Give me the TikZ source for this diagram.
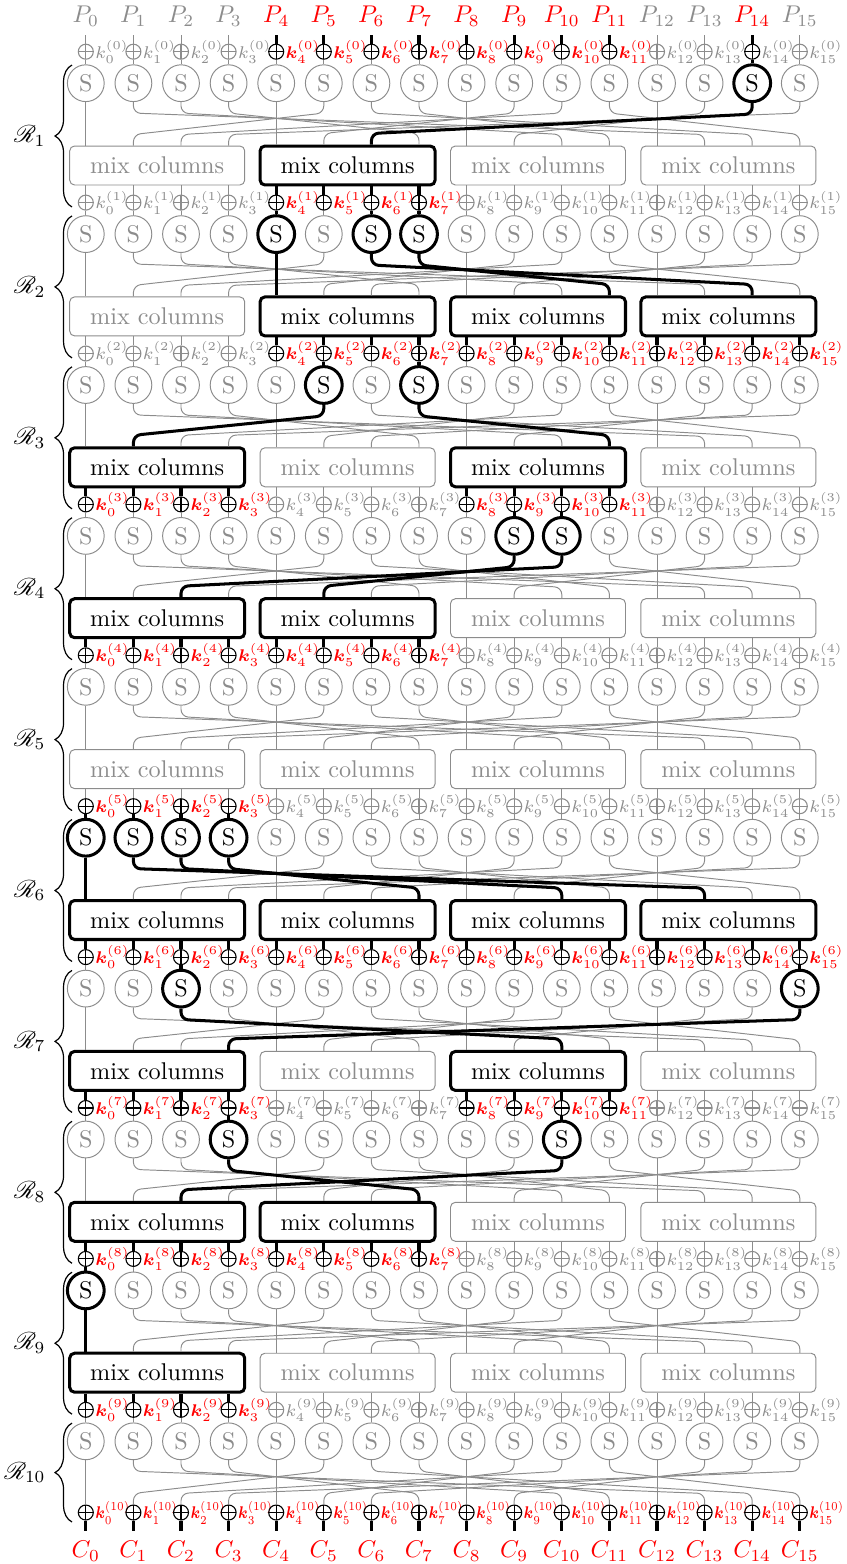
\documentclass[tikz,border=0pt]{standalone}
\usepackage{amsmath}
\usepackage{graphicx}
\usepackage{mathrsfs}
\usetikzlibrary{decorations.pathreplacing,calc}
\colorlet{gry}{black!45}
\newcommand\setact[2]{\foreach \z in {#2}{\expandafter\gdef\csname actflag-#1-\z\endcsname{}}}
\newcommand\testact[2]{\ifcsname actflag-#1-#2\endcsname\def\isact{1}\else\def\isact{0}\fi}
\def\curpass{0}
\newcommand\wire[1]{\ifnum\isact=\curpass\relax\ifnum\isact=1 \draw[tw] #1;\else\draw[gw] #1;\fi\fi}
\newcommand\klab[1]{\ifnum\ra=10 \scalebox{0.82}[1]{#1}\else#1\fi}
\setact{p}{4,5,6,7,8,9,10,11,14}
\setact{s1}{14}
\setact{s2}{4,6,7}
\setact{s3}{5,7}
\setact{s4}{9,10}
\setact{s6}{0,1,2,3}
\setact{s7}{2,15}
\setact{s8}{3,10}
\setact{s9}{0}
\setact{m1}{1}
\setact{m2}{1,2,3}
\setact{m3}{0,2}
\setact{m4}{0,1}
\setact{m6}{0,1,2,3}
\setact{m7}{0,2}
\setact{m8}{0,1}
\setact{m9}{0}
\setact{k0}{4,5,6,7,8,9,10,11}
\setact{k1}{4,5,6,7}
\setact{k2}{4,5,6,7,8,9,10,11,12,13,14,15}
\setact{k3}{0,1,2,3,8,9,10,11}
\setact{k4}{0,1,2,3,4,5,6,7}
\setact{k5}{0,1,2,3}
\setact{k6}{0,1,2,3,4,5,6,7,8,9,10,11,12,13,14,15}
\setact{k7}{0,1,2,3,8,9,10,11}
\setact{k8}{0,1,2,3,4,5,6,7}
\setact{k9}{0,1,2,3}
\setact{k10}{0,1,2,3,4,5,6,7,8,9,10,11,12,13,14,15}
\newcommand\allwires{%
% vertical wires around key additions
\foreach \ra in {0,...,10}{
  \foreach \ia in {0,...,15}{
    \pgfmathtruncatemacro\ga{\ia/4}
    \pgfmathtruncatemacro\rn{\ra+1}
    \ifnum\ra=0
      \testact{p}{\ia}\wire{(p\ia.south) -- (x0c\ia.north)}
    \else\ifnum\ra<10
      \testact{m\ra}{\ga}\wire{(x\ra c\ia |- m\ra g\ga.south) -- (x\ra c\ia.north)}
    \fi\fi
    \ifnum\ra<10
      \testact{s\rn}{\ia}\wire{(x\ra c\ia.south) -- (s\rn c\ia.north)}
    \else
      \def\isact{1}\wire{(x10c\ia.south) -- (c\ia.north)}
    \fi
  }
}
% shift rows wires
\foreach \ra in {1,...,10}{
  \foreach \ia in {0,...,15}{
    \pgfmathtruncatemacro\ja{mod(\ia,4)+4*mod(int(\ia/4)-mod(\ia,4)+4,4)}
    \pgfmathtruncatemacro\ga{\ja/4}
    \testact{s\ra}{\ia}
    \ifnum\ra<10
      \ifnum\ia=\ja
        \wire{(s\ra c\ia.south) -- (s\ra c\ja |- m\ra g\ga.north)}
      \else
        \wire{[rounded corners=3pt] (s\ra c\ia.south) -- ++(0,11) -- ($(s\ra c\ja |- m\ra g\ga.north)+(0,-11)$) -- (s\ra c\ja |- m\ra g\ga.north)}
      \fi
    \else
      \ifnum\ia=\ja
        \wire{(s10c\ia.south) -- (x10c\ja.north)}
      \else
        \wire{[rounded corners=3pt] (s10c\ia.south) -- ++(0,11) -- ($(x10c\ja.north)+(0,-11)$) -- (x10c\ja.north)}
      \fi
    \fi
  }
}}
\begin{document}
\begin{tikzpicture}[x=0.4132pt,y=-0.4132pt,
  gw/.style={draw=gry, line width=0.4pt},
  tw/.style={draw=black, line width=1.25pt},
  sbox/.style={circle, draw=gry, text=gry, line width=0.4pt, minimum size=15.2pt, inner sep=0pt},
  sboxa/.style={circle, draw=black, text=black, line width=1.25pt, minimum size=15.2pt, inner sep=0pt},
  mixg/.style={draw=gry, text=gry, rounded corners=2pt, line width=0.4pt, minimum width=72.3pt, minimum height=16.1pt, inner sep=0pt},
  mixa/.style={draw=black, text=black, rounded corners=2pt, line width=1.25pt, minimum width=72.3pt, minimum height=16.1pt, inner sep=0pt},
  xorn/.style={circle, draw=#1, line width=0.45pt, minimum size=6.2pt, inner sep=0pt,
    path picture={\draw[#1, line width=0.45pt] (path picture bounding box.north) -- (path picture bounding box.south) (path picture bounding box.west) -- (path picture bounding box.east);}},
  klbl/.style={anchor=west, inner sep=0.4pt, font=\scriptsize},
  brc/.style={decorate, decoration={brace, amplitude=7pt}, line width=0.5pt}
]
\useasboundingbox (0,0) rectangle (846,1564);
% plaintext and ciphertext labels
\foreach \ia in {0,...,15}{
  \pgfmathsetmacro\xa{85.8+47.6*\ia}
  \testact{p}{\ia}
  \ifnum\isact=1 \def\tc{red}\else\def\tc{gry}\fi
  \node[text=\tc, anchor=south, inner sep=3.5pt] (p\ia) at (\xa,35) {$P_{\ia}$};
  \node[text=red, anchor=north, inner sep=4pt] (c\ia) at (\xa,1531) {$C_{\ia}$};
}
% key additions
\foreach \ra in {0,...,10}{
  \pgfmathsetmacro\ya{ifthenelse(\ra<10,51.7+150.9*\ra,1512.5)}
  \foreach \ia in {0,...,15}{
    \pgfmathsetmacro\xa{85.8+47.6*\ia}
    \pgfmathtruncatemacro\ga{\ia/4}
    \testact{k\ra}{\ia}\let\keyact\isact
    \ifnum\ra=0 \testact{p}{\ia}\else\testact{m\ra}{\ga}\fi
    \let\inact\isact
    \ifnum\numexpr\keyact+\inact\relax>0 \def\xc{black}\else\def\xc{gry}\fi
    \node[xorn=\xc] (x\ra c\ia) at (\xa,\ya) {};
    \ifnum\keyact=1
      \node[klbl, text=red] (k\ra c\ia) at (x\ra c\ia.east) {\klab{$\boldsymbol{k}_{\ia}^{(\ra)}$}};
    \else
      \node[klbl, text=gry] (k\ra c\ia) at (x\ra c\ia.east) {\klab{$k_{\ia}^{(\ra)}$}};
    \fi
  }
}
% S-boxes
\foreach \ra in {1,...,10}{
  \pgfmathsetmacro\ya{83.2+150.9*(\ra-1)}
  \foreach \ia in {0,...,15}{
    \pgfmathsetmacro\xa{85.8+47.6*\ia}
    \testact{s\ra}{\ia}
    \ifnum\isact=1 \def\sst{sboxa}\else\def\sst{sbox}\fi
    \node[\sst] (s\ra c\ia) at (\xa,\ya) {S};
  }
}
% mix columns
\foreach \ra in {1,...,9}{
  \pgfmathsetmacro\ya{165.5+150.9*(\ra-1)}
  \foreach \ga in {0,...,3}{
    \pgfmathsetmacro\xa{157.2+190.4*\ga}
    \testact{m\ra}{\ga}
    \ifnum\isact=1 \def\mst{mixa}\else\def\mst{mixg}\fi
    \node[\mst] (m\ra g\ga) at (\xa,\ya) {mix columns};
  }
}
% wires: inactive first, then active on top
\def\curpass{0}\allwires
\def\curpass{1}\allwires
% round braces
\foreach \ra in {1,...,10}{
  \pgfmathsetmacro\yt{65+150.9*(\ra-1)}
  \pgfmathsetmacro\yb{ifthenelse(\ra<10,207+150.9*(\ra-1),1522)}
  \coordinate (bt\ra) at (72,\yt);
  \coordinate (bb\ra) at (72,\yb);
  \draw[brc] (bb\ra) -- (bt\ra);
  \node[anchor=east, inner sep=0pt] (rl\ra) at ($(bb\ra)!0.5!(bt\ra)+(-26,0)$) {$\mathscr{R}_{\ra}$};
}
\end{tikzpicture}
\end{document}
